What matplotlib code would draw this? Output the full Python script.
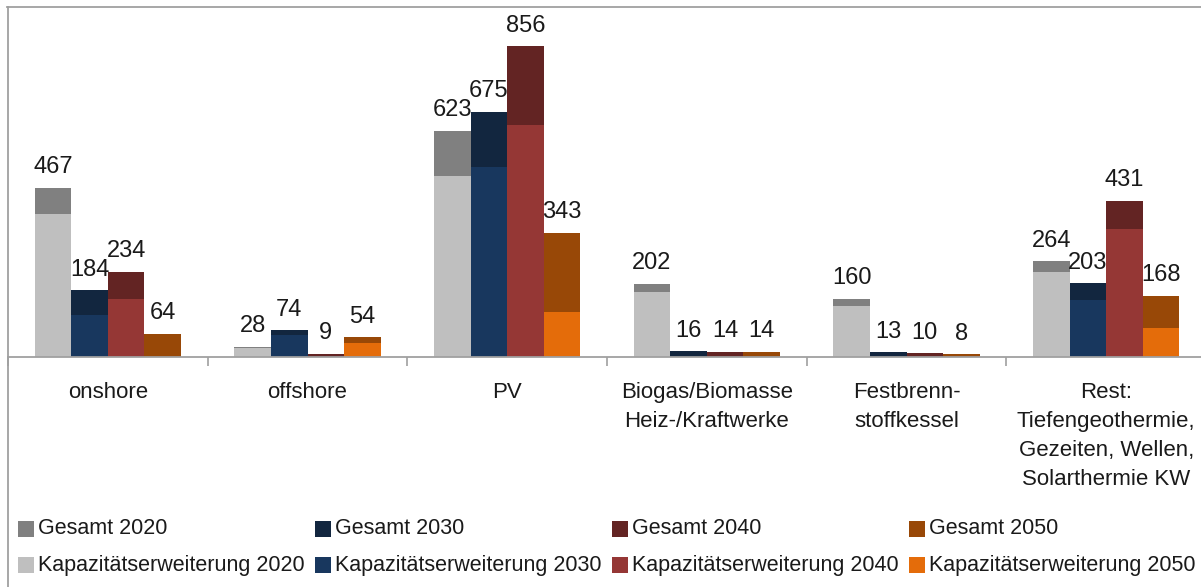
import matplotlib
matplotlib.use("Agg")
import matplotlib.pyplot as plt
from matplotlib.patches import Rectangle
from matplotlib.lines import Line2D
import numpy as np

plt.rcParams['font.family'] = ['Liberation Sans', 'DejaVu Sans']

categories = ["onshore", "offshore", "PV", "Biogas/Biomasse\nHeiz-/Kraftwerke",
              "Festbrenn-\nstoffkessel",
              "Rest:\nTiefengeothermie,\nGezeiten, Wellen,\nSolarthermie KW"]
years = ["2020", "2030", "2040", "2050"]

# Total capacity per category and year
gesamt_2020 = [467, 28, 623, 202, 160, 264]
gesamt_2030 = [184, 74, 675, 16, 13, 203]
gesamt_2040 = [234, 9, 856, 14, 10, 431]
gesamt_2050 = [64, 54, 343, 14, 8, 168]

# Capacity expansion share of each total
kap_2020 = [395, 26, 500, 178, 140, 233]
kap_2030 = [117, 61, 523, 0, 0, 158]
kap_2040 = [160, 0, 639, 0, 0, 353]
kap_2050 = [0, 39, 124, 0, 0, 81]

gesamt = [gesamt_2020, gesamt_2030, gesamt_2040, gesamt_2050]
kap = [kap_2020, kap_2030, kap_2040, kap_2050]

gesamt_colors = ["#808080", "#12263F", "#632423", "#984807"]
kap_colors = ["#BFBFBF", "#18375E", "#953735", "#E46C0A"]

W, H = 1201, 587
fig = plt.figure(figsize=(W / 100, H / 100), dpi=100)

# plot area in pixel terms
left_px, right_px, base_px, top_px = 8, 1206, 357, 7
ax = fig.add_axes([left_px / W, 1 - base_px / H,
                   (right_px - left_px) / W, (base_px - top_px) / H])
px_per_unit = 0.3629
ax.set_ylim(0, (base_px - top_px) / px_per_unit)
ax.set_xlim(-0.5, len(categories) - 0.5)

x = np.arange(len(categories))
bw = 0.183
offsets = (np.arange(4) - 1.5) * bw

for i in range(4):
    tot = np.array(gesamt[i], dtype=float)
    k = np.array(kap[i], dtype=float)
    ax.bar(x + offsets[i], k, bw, color=kap_colors[i], linewidth=0)
    ax.bar(x + offsets[i], tot - k, bw, bottom=k, color=gesamt_colors[i], linewidth=0)
    for xi, t in zip(x + offsets[i], tot):
        ax.annotate(f"{int(t)}", (xi, t), xytext=(0, 10.5), textcoords="offset points",
                    ha="center", va="baseline", fontsize=17, color="#1a1a1a")

for s in ["top", "right", "left"]:
    ax.spines[s].set_visible(False)
ax.spines["bottom"].set_color("#A0A0A0")
ax.spines["bottom"].set_linewidth(1.3)
ax.set_yticks([])
ax.set_xticks(x)
ax.set_xticklabels(categories, fontsize=16, color="#1a1a1a", linespacing=1.5)
ax.tick_params(axis="x", which="major", length=0, pad=18)
ax.set_xticks(np.arange(-0.5, len(categories)), minor=True)
ax.tick_params(axis="x", which="minor", length=6.5, width=1.2, color="#A0A0A0")

# outer chart frame (top and left edge)
fig.add_artist(Line2D([7 / W, 1.0], [1 - 7 / H, 1 - 7 / H], color="#A0A0A0", lw=1.3,
                      transform=fig.transFigure))
fig.add_artist(Line2D([7.5 / W, 7.5 / W], [0, 1 - 7 / H], color="#A0A0A0", lw=1.3,
                      transform=fig.transFigure))

# legend: two rows, four columns
col_x = [18, 315, 612, 909]
row_y = [529, 565]
msize = 15.5
for r, (colors, label) in enumerate([(gesamt_colors, "Gesamt"),
                                     (kap_colors, "Kapazitätserweiterung")]):
    for c in range(4):
        x0 = col_x[c]
        y0 = row_y[r]
        fig.add_artist(Rectangle((x0 / W, 1 - (y0 + msize / 2) / H), msize / W, msize / H,
                                 facecolor=colors[c], edgecolor="none",
                                 transform=fig.transFigure))
        fig.text((x0 + msize + 4) / W, 1 - y0 / H, f"{label} {years[c]}",
                 ha="left", va="center", fontsize=15.5, color="#1a1a1a")

fig.savefig("out.png", dpi=100)
